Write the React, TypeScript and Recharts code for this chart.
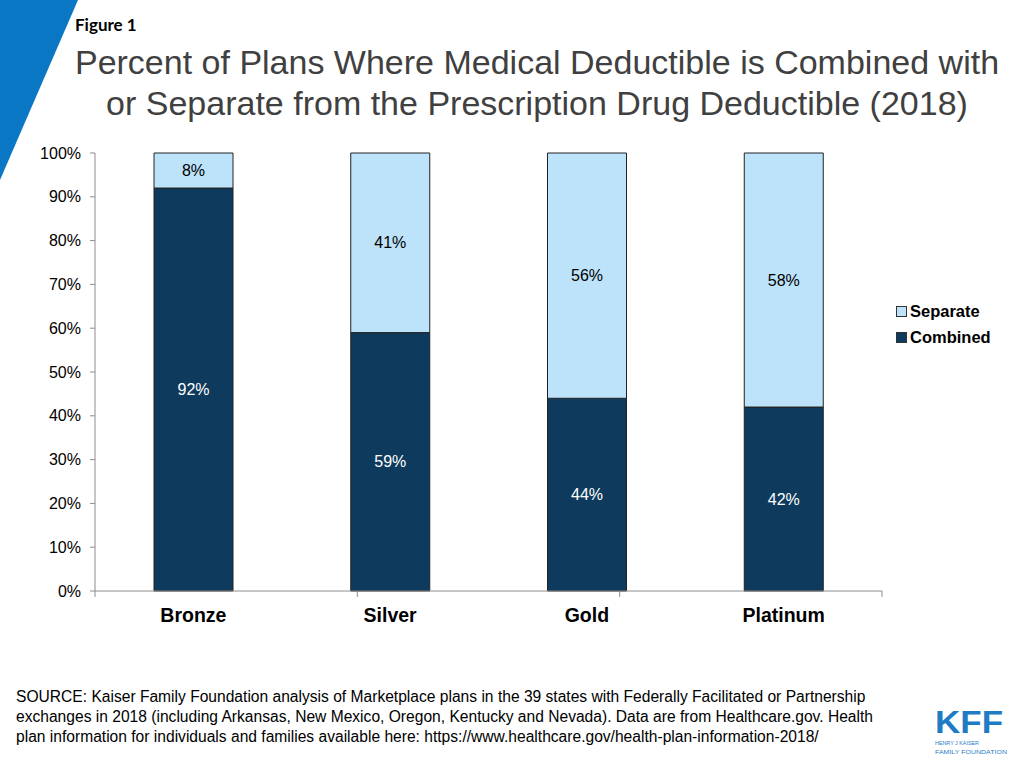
import React from 'react';
import { BarChart, Bar, XAxis, YAxis, Legend, LabelList } from 'recharts';

const categories = ['Bronze', 'Silver', 'Gold', 'Platinum'];
const combinedValues = [92, 59, 44, 42];
const separateValues = [8, 41, 56, 58];
const yTicks = [0, 10, 20, 30, 40, 50, 60, 70, 80, 90, 100];
const boundaryTicks = [0, 1, 2, 3, 4];

const data = categories.map((c, i) => ({
  name: c,
  Combined: combinedValues[i],
  Separate: separateValues[i],
}));

const FONT = '"Liberation Sans", Arial, sans-serif';
const DARK = '#0e3a5d';
const LIGHT = '#bde3fa';

const LegendContent = () => {
  const items = [
    { label: 'Separate', color: LIGHT },
    { label: 'Combined', color: DARK },
  ];
  return (
    <div style={{ fontFamily: FONT }}>
      {items.map((it) => (
        <div key={it.label} style={{ display: 'flex', alignItems: 'center', height: 26 }}>
          <span
            style={{
              display: 'inline-block',
              width: 9,
              height: 9,
              background: it.color,
              border: '1px solid #333',
              marginRight: 3,
            }}
          />
          <span style={{ fontSize: 16.5, fontWeight: 'bold', color: '#000' }}>{it.label}</span>
        </div>
      ))}
    </div>
  );
};

const CatTick = (props: any) => {
  const { x, y, payload } = props;
  return (
    <text
      x={x}
      y={y + 22}
      textAnchor="middle"
      fontFamily={FONT}
      fontSize={19.5}
      fontWeight="bold"
      fill="#000"
    >
      {payload.value}
    </text>
  );
};

export default function App() {
  return (
    <div
      style={{
        position: 'absolute',
        left: 0,
        top: 0,
        width: 1024,
        height: 768,
        background: '#fff',
        overflow: 'hidden',
        fontFamily: FONT,
      }}
    >
      <svg width={1024} height={768} style={{ position: 'absolute', left: 0, top: 0 }}>
        <polygon points="0,0 78,0 0,180" fill="#0a77c4" />
        <text x={75} y={31} fontFamily="Lato, 'Open Sans', sans-serif" fontWeight="bold" fontSize={17} fill="#000">
          Figure 1
        </text>
        <text x={537} y={74} textAnchor="middle" fontFamily={FONT} fontSize={34} fill="#404040">
          Percent of Plans Where Medical Deductible is Combined with
        </text>
        <text x={537} y={115} textAnchor="middle" fontFamily={FONT} fontSize={34} fill="#404040">
          or Separate from the Prescription Drug Deductible (2018)
        </text>
        <text fontFamily={FONT} fontSize={15.6} fill="#000">
          <tspan x={16} y={702}>
            SOURCE: Kaiser Family Foundation analysis of Marketplace plans in the 39 states with Federally Facilitated or Partnership
          </tspan>
          <tspan x={16} y={722}>
            exchanges in 2018 (including Arkansas, New Mexico, Oregon, Kentucky and Nevada). Data are from Healthcare.gov. Health
          </tspan>
          <tspan x={16} y={742}>
            plan information for individuals and families available here: https://www.healthcare.gov/health-plan-information-2018/
          </tspan>
        </text>
        <text
          x={935}
          y={733}
          fontFamily={FONT}
          fontWeight="bold"
          fontSize={31}
          fill="#1f7bc4"
          textLength={68}
          lengthAdjust="spacingAndGlyphs"
        >
          KFF
        </text>
        <text x={935} y={745} fontFamily={FONT} fontSize={6.2} fill="#1f7bc4" textLength={44} lengthAdjust="spacingAndGlyphs">
          HENRY J KAISER
        </text>
        <text x={935} y={754} fontFamily={FONT} fontSize={6.2} fill="#1f7bc4" textLength={72} lengthAdjust="spacingAndGlyphs">
          FAMILY FOUNDATION
        </text>
      </svg>
      <div style={{ position: 'absolute', left: 0, top: 0 }}>
        <BarChart
          width={1024}
          height={768}
          data={data}
          margin={{ top: 153, right: 142, bottom: 146, left: 35 }}
          barSize={79}
        >
          <XAxis
            xAxisId="a"
            type="number"
            domain={[0, 4]}
            ticks={boundaryTicks}
            tickFormatter={() => ''}
            height={1}
            tickSize={6}
            axisLine={{ stroke: '#8c8c8c' }}
            tickLine={{ stroke: '#8c8c8c' }}
            allowDataOverflow
          />
          <XAxis
            xAxisId="b"
            dataKey="name"
            type="category"
            height={30}
            axisLine={false}
            tickLine={false}
            tick={<CatTick />}
            interval={0}
          />
          <YAxis
            domain={[0, 100]}
            ticks={yTicks}
            interval={0}
            tickFormatter={(v: number) => `${v}%`}
            axisLine={{ stroke: '#8c8c8c' }}
            tickLine={{ stroke: '#8c8c8c' }}
            tickSize={5}
            tickMargin={9}
            tick={{ fontFamily: FONT, fontSize: 16, fill: '#000' }}
            width={60}
          />
          <Legend
            layout="vertical"
            align="center"
            verticalAlign="middle"
            content={<LegendContent />}
            wrapperStyle={{ position: 'absolute', left: 896, top: 298, width: 120 }}
          />
          <Bar
            xAxisId="b"
            dataKey="Combined"
            stackId="a"
            fill={DARK}
            stroke="#222"
            strokeWidth={1}
            isAnimationActive={false}
          >
            <LabelList
              dataKey="Combined"
              position="center"
              formatter={(v: any) => `${v}%`}
              fill="#fff"
              fontFamily={FONT}
              fontSize={16}
            />
          </Bar>
          <Bar
            xAxisId="b"
            dataKey="Separate"
            stackId="a"
            fill={LIGHT}
            stroke="#222"
            strokeWidth={1}
            isAnimationActive={false}
          >
            <LabelList
              dataKey="Separate"
              position="center"
              formatter={(v: any) => `${v}%`}
              fill="#000"
              fontFamily={FONT}
              fontSize={16}
            />
          </Bar>
        </BarChart>
      </div>
    </div>
  );
}
